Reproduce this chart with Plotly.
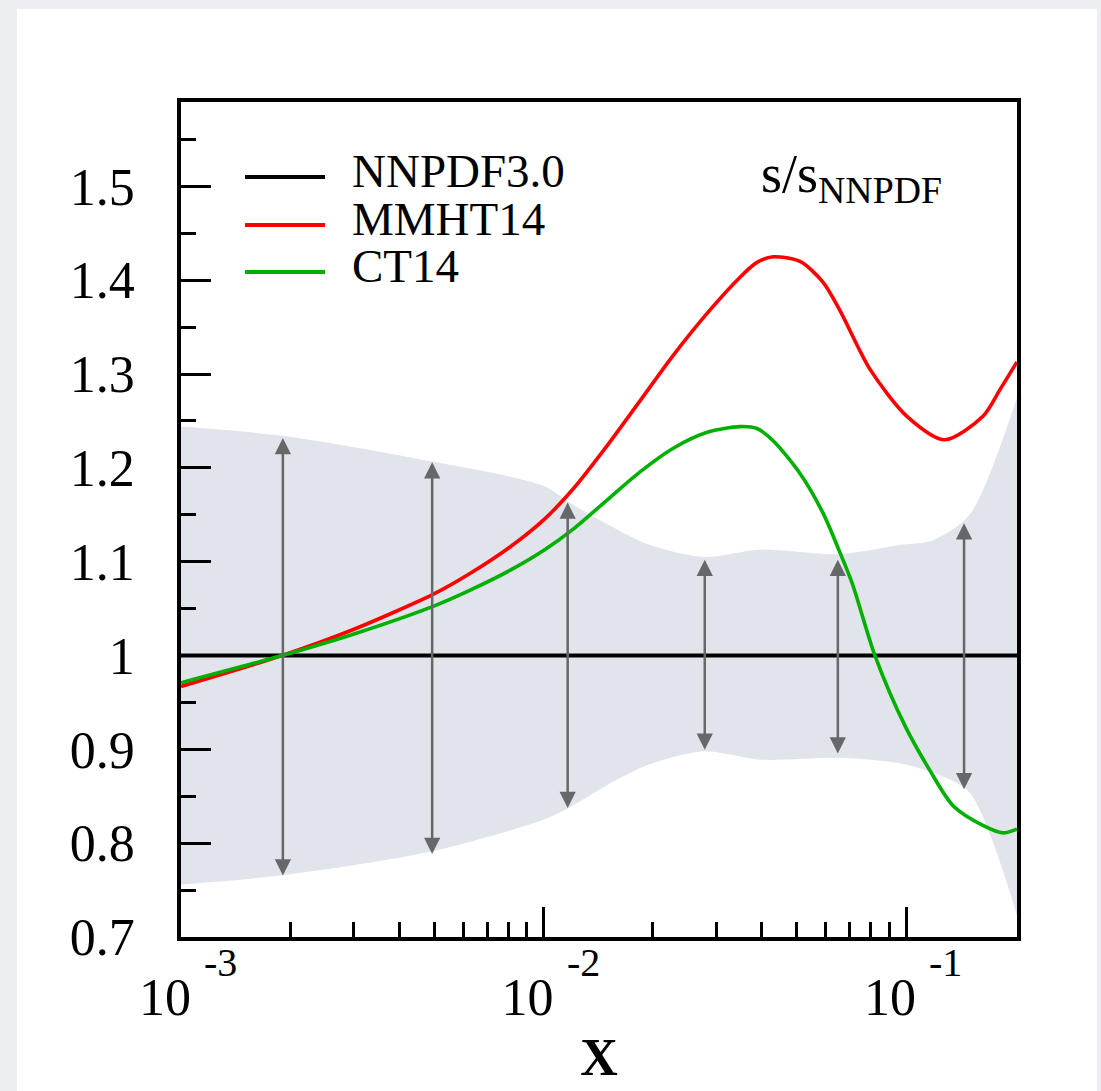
import numpy as np
import plotly.graph_objects as go

FONT = "Liberation Serif"

# ---------------- data ----------------
# NNPDF3.0 uncertainty band (ratio to central value)
band_x = [0.001, 0.00193, 0.00489, 0.0100, 0.0118, 0.0150, 0.0196, 0.0278, 0.0396, 0.0657, 0.0967, 0.1189, 0.1497, 0.2024]
band_hi = [1.244, 1.234, 1.207, 1.181, 1.163, 1.140, 1.118, 1.105, 1.113, 1.108, 1.118, 1.123, 1.150, 1.275]
band_lo = [0.756, 0.766, 0.791, 0.825, 0.838, 0.862, 0.884, 0.898, 0.889, 0.891, 0.885, 0.875, 0.854, 0.723]

# NNPDF3.0 central (reference = 1)
nnpdf_x = [0.001, 0.2024]
nnpdf = [1.0, 1.0]

# MMHT14 / NNPDF
mmht_x = [0.001, 0.0019, 0.003, 0.005, 0.0063, 0.0081, 0.0101, 0.0121, 0.015, 0.0185, 0.0228, 0.0283,
          0.0348, 0.0388, 0.043, 0.051, 0.059, 0.0657, 0.0796, 0.1006, 0.128, 0.163, 0.182, 0.2024]
mmht = [0.967, 1.000, 1.028, 1.066, 1.088, 1.116, 1.146, 1.178, 1.224, 1.272, 1.320, 1.365,
        1.403, 1.419, 1.425, 1.420, 1.398, 1.368, 1.305, 1.255, 1.230, 1.255, 1.284, 1.313]

# CT14 / NNPDF
ct14_x = [0.001, 0.0019, 0.003, 0.005, 0.0063, 0.0081, 0.0101, 0.0121, 0.015, 0.0185, 0.0228, 0.0283,
          0.0348, 0.0388, 0.043, 0.051, 0.059, 0.0657, 0.0712, 0.0821, 0.0994, 0.1158, 0.1348, 0.163,
          0.1852, 0.2024]
ct14 = [0.971, 1.000, 1.023, 1.053, 1.070, 1.091, 1.113, 1.135, 1.166, 1.196, 1.221, 1.238,
        1.244, 1.242, 1.229, 1.194, 1.152, 1.110, 1.076, 1.000, 0.925, 0.879, 0.840, 0.819,
        0.811, 0.815]

# double-headed arrows marking the band width
arrow_x = [0.00191, 0.00493, 0.01166, 0.02785, 0.06486, 0.1446]
arrow_top = [1.232, 1.206, 1.163, 1.102, 1.102, 1.141]
arrow_bot = [0.764, 0.787, 0.836, 0.898, 0.894, 0.856]

# axis ticks
y_tickvals = [0.7, 0.8, 0.9, 1.0, 1.1, 1.2, 1.3, 1.4, 1.5]
y_ticktext = ["0.7", "0.8", "0.9", "1", "1.1", "1.2", "1.3", "1.4", "1.5"]
x_tickvals = [0.001, 0.01, 0.1]
x_tickbase = ["10", "10", "10"]
x_tickexp = ["-3", "-2", "-1"]
x_minorvals = [0.002, 0.003, 0.004, 0.005, 0.006, 0.007, 0.008, 0.009,
               0.02, 0.03, 0.04, 0.05, 0.06, 0.07, 0.08, 0.09]

legend_names = ["NNPDF3.0", "MMHT14", "CT14"]
legend_colors = ["#000000", "#ff0000", "#00b000"]

# ---------------- figure ----------------
W, H = 1101, 1091
ML, MR, MT, MB = 181, 84, 102, 154
PW, PH = W - ML - MR, H - MT - MB

fig = go.Figure()

fig.add_trace(go.Scatter(x=band_x, y=band_lo, mode="lines",
                         line=dict(width=0, shape="spline", smoothing=0.8),
                         showlegend=False, hoverinfo="skip"))
fig.add_trace(go.Scatter(x=band_x, y=band_hi, mode="lines",
                         line=dict(width=0, shape="spline", smoothing=0.8),
                         fill="tonexty", fillcolor="#e1e4ea",
                         showlegend=False, hoverinfo="skip"))

fig.add_trace(go.Scatter(x=nnpdf_x, y=nnpdf, mode="lines", name=legend_names[0],
                         line=dict(color=legend_colors[0], width=4), showlegend=False))
fig.add_trace(go.Scatter(x=mmht_x, y=mmht, mode="lines", name=legend_names[1],
                         line=dict(color=legend_colors[1], width=3.6, shape="spline", smoothing=0.8),
                         showlegend=False))
fig.add_trace(go.Scatter(x=ct14_x, y=ct14, mode="lines", name=legend_names[2],
                         line=dict(color=legend_colors[2], width=3.6, shape="spline", smoothing=0.8),
                         showlegend=False))

# arrows
for xv, t, b in zip(arrow_x, arrow_top, arrow_bot):
    lx = float(np.log10(xv))
    fig.add_annotation(x=lx, y=t, ax=lx, ay=b, xref="x", yref="y", axref="x", ayref="y",
                       text="", showarrow=True, arrowhead=2, startarrowhead=2,
                       arrowside="end+start", arrowwidth=2.5, arrowsize=1.3,
                       startarrowsize=1.3, arrowcolor="#646868")

# exponents of the x tick labels (10^n)
for v, e in zip(x_tickvals, x_tickexp):
    fig.add_annotation(x=float(np.log10(v)), xref="x", y=0, yref="paper",
                       xanchor="left", yanchor="top", xshift=21, yshift=-1,
                       text=e, showarrow=False,
                       font=dict(family=FONT, size=40, color="black"))

# manual legend
leg_px_y = [177, 225, 272]
for name, col, py in zip(legend_names, legend_colors, leg_px_y):
    yp = (H - MB - py) / PH
    fig.add_shape(type="line", xref="paper", yref="paper",
                  x0=(245 - ML) / PW, x1=(325 - ML) / PW, y0=yp, y1=yp,
                  line=dict(color=col, width=4))
    fig.add_annotation(xref="paper", yref="paper", x=(350 - ML) / PW, y=yp + 6 / PH,
                       xanchor="left", yanchor="middle", showarrow=False, text=name,
                       height=44, valign="middle",
                       font=dict(family=FONT, size=47, color="black"))

# s/s_NNPDF label
fig.add_annotation(xref="paper", yref="paper", x=(759 - ML) / PW, y=(H - MB - 178) / PH,
                   xanchor="left", yanchor="middle", showarrow=False,
                   text="s/s<sub>NNPDF</sub>",
                   font=dict(family=FONT, size=54, color="black"))

# white panel behind everything
fig.add_shape(type="rect", xref="paper", yref="paper", layer="below",
              x0=(17 - ML) / PW, x1=(1097 - ML) / PW,
              y0=(H - MB - 1095) / PH, y1=(H - MB - 9) / PH,
              fillcolor="white", line=dict(width=0))

fig.update_layout(
    width=W, height=H,
    margin=dict(l=ML, r=MR, t=MT, b=MB, pad=0, autoexpand=False),
    paper_bgcolor="#eceef2", plot_bgcolor="white",
    showlegend=False,
    font=dict(family=FONT, color="black"),
)

fig.update_xaxes(
    type="log", range=[-3, np.log10(0.2024)],
    automargin=False,
    showline=True, linecolor="black", linewidth=3.5, mirror=True,
    showgrid=False, zeroline=False,
    tickmode="array", tickvals=x_tickvals, ticktext=x_tickbase,
    ticks="inside", ticklen=30, tickwidth=3, tickcolor="black",
    tickfont=dict(family=FONT, size=52, color="black"),
    ticklabelstandoff=12, ticklabelshift=-16,
    minor=dict(tickmode="array", tickvals=x_minorvals, ticks="inside",
               ticklen=15, tickwidth=3, tickcolor="black", showgrid=False),
    title=dict(text="X", font=dict(family=FONT, size=52, color="black", weight="bold"),
               standoff=14),
)

fig.update_yaxes(
    range=[0.7, 1.59],
    automargin=False,
    showline=True, linecolor="black", linewidth=3.5, mirror=True,
    showgrid=False, zeroline=False,
    tickmode="array", tickvals=y_tickvals, ticktext=y_ticktext,
    ticks="inside", ticklen=30, tickwidth=3, tickcolor="black",
    tickfont=dict(family=FONT, size=52, color="black"),
    ticklabelstandoff=32,
    minor=dict(dtick=0.05, tick0=0.7, ticks="inside", ticklen=15, tickwidth=3,
               tickcolor="black", showgrid=False),
)

fig.write_html("out.html",
               config={"displayModeBar": False},
               post_script="document.body.style.margin='0px';"
                           "document.documentElement.style.overflow='hidden';")
